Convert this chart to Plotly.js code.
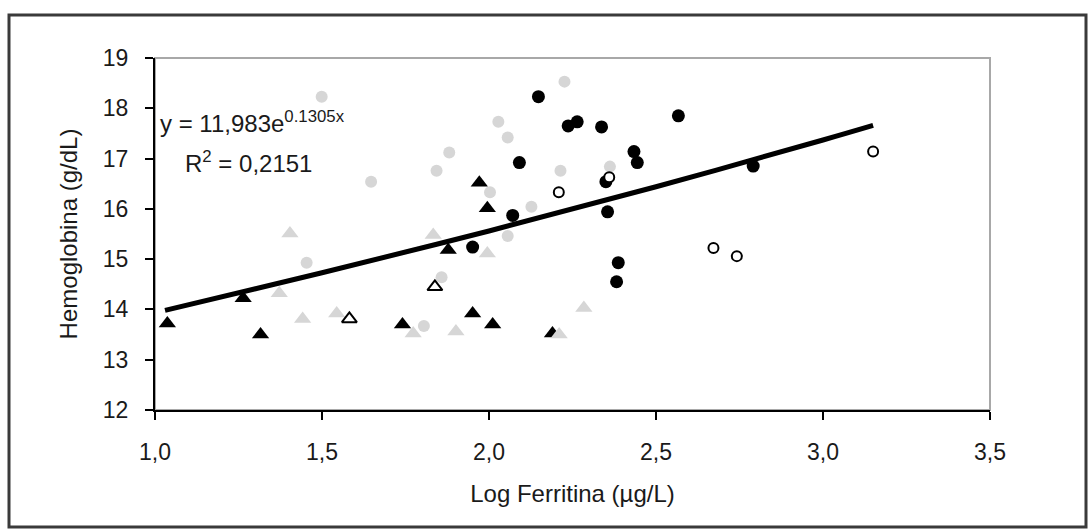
<!DOCTYPE html>
<html>
<head>
<meta charset="utf-8">
<script src="https://cdn.plot.ly/plotly-3.0.1.min.js"></script>
<style>
  html, body { margin: 0; padding: 0; background: #ffffff; }
  #chart { width: 1088px; height: 529px; }
</style>
</head>
<body>
<div id="chart"></div>
<script>
// Black filled circles
const blackCircleX = [1.951, 2.148, 2.237, 2.264, 2.337, 2.091, 2.350, 2.071, 2.355, 2.387, 2.382, 2.434, 2.444, 2.567, 2.791];
const blackCircleY = [15.24, 18.23, 17.65, 17.73, 17.63, 16.92, 16.54, 15.87, 15.94, 14.93, 14.55, 17.14, 16.92, 17.85, 16.85];

// Open circles
const openCircleX = [2.209, 2.360, 2.672, 2.742, 3.150];
const openCircleY = [16.33, 16.63, 15.22, 15.06, 17.14];

// Black filled triangles
const blackTriX = [1.037, 1.264, 1.316, 1.741, 1.878, 1.951, 1.971, 1.995, 2.011, 2.190];
const blackTriY = [13.72, 14.22, 13.50, 13.70, 15.18, 13.92, 16.52, 16.01, 13.70, 13.52];

// Open triangles
const openTriX = [1.582, 1.838];
const openTriY = [13.81, 14.45];

// Light gray circles
const grayCircleX = [1.499, 1.647, 1.454, 1.858, 1.805, 2.056, 2.226, 2.028, 2.056, 1.881, 1.843, 2.214, 2.362, 2.003, 2.127];
const grayCircleY = [18.23, 16.54, 14.93, 14.64, 13.67, 15.46, 18.53, 17.73, 17.42, 17.12, 16.76, 16.76, 16.84, 16.33, 16.04];

// Light gray triangles
const grayTriX = [1.404, 1.372, 1.442, 1.544, 1.833, 1.773, 1.901, 1.995, 2.210, 2.284];
const grayTriY = [15.51, 14.32, 13.81, 13.92, 15.48, 13.52, 13.56, 15.11, 13.50, 14.03];

// Trendline
const trendX = [1.03, 1.5, 2.0, 2.5, 3.0, 3.15];
const trendY = [13.98, 14.73, 15.56, 16.44, 17.37, 17.66];

// Tick values
const xTicks = [1.0, 1.5, 2.0, 2.5, 3.0, 3.5];
const yTicks = [12, 13, 14, 15, 16, 17, 18, 19];

const eqLine1 = "y = 11,983e<sup>0.1305x</sup>";
const eqLine2 = "R<sup>2</sup> = 0,2151";

const FONT = "Liberation Sans, Arial, sans-serif";
const BLACK = "#000000";
const GRAY = "#d6d6d6";

const traces = [
  { x: blackTriX, y: blackTriY, type: "scatter", mode: "markers", name: "black triangles",
    marker: { symbol: "triangle-up", size: 15, color: BLACK } },
  { x: grayTriX, y: grayTriY, type: "scatter", mode: "markers", name: "gray triangles",
    marker: { symbol: "triangle-up", size: 15, color: GRAY } },
  { x: grayCircleX, y: grayCircleY, type: "scatter", mode: "markers", name: "gray circles",
    marker: { symbol: "circle", size: 12, color: GRAY } },
  { x: openTriX, y: openTriY, type: "scatter", mode: "markers", name: "open triangles",
    marker: { symbol: "triangle-up", size: 13, color: "#ffffff", line: { color: BLACK, width: 2 } } },
  { x: blackCircleX, y: blackCircleY, type: "scatter", mode: "markers", name: "black circles",
    marker: { symbol: "circle", size: 13, color: BLACK } },
  { x: openCircleX, y: openCircleY, type: "scatter", mode: "markers", name: "open circles",
    marker: { symbol: "circle", size: 10, color: "#ffffff", line: { color: BLACK, width: 2 } } },
  { x: trendX, y: trendY, type: "scatter", mode: "lines", name: "trend",
    line: { color: BLACK, width: 5, shape: "spline" } }
];

const L = 155, R = 98, T = 58, B = 119;
const W = 1088, H = 529;
const pw = W - L - R, ph = H - T - B;
const px = v => (v - L) / pw;
const py = v => (H - B - v) / ph;

const layout = {
  width: W, height: H,
  margin: { l: L, r: R, t: T, b: B, pad: 0 },
  paper_bgcolor: "#ffffff",
  plot_bgcolor: "#ffffff",
  showlegend: false,
  separators: ",.",
  font: { family: FONT, color: "#1a1a1a", size: 23 },
  xaxis: {
    range: [1, 3.5], tickvals: xTicks, tickformat: ".1f",
    showgrid: false, zeroline: false,
    showline: true, linecolor: BLACK, linewidth: 2,
    ticks: "outside", ticklen: 8, tickwidth: 2, tickcolor: BLACK,
    ticklabelstandoff: 12,
    tickfont: { family: FONT, size: 23, color: "#1a1a1a" },
    title: { text: "Log Ferritina (µg/L)", font: { family: FONT, size: 24, color: "#1a1a1a" }, standoff: 22 },
    fixedrange: true
  },
  yaxis: {
    range: [12, 19], tickvals: yTicks,
    showgrid: false, zeroline: false,
    showline: true, linecolor: BLACK, linewidth: 2,
    ticks: "outside", ticklen: 8, tickwidth: 2, tickcolor: BLACK,
    ticklabelstandoff: 12,
    tickfont: { family: FONT, size: 23, color: "#1a1a1a" },
    title: { text: "Hemoglobina (g/dL)", font: { family: FONT, size: 24, color: "#1a1a1a" }, standoff: 18 },
    fixedrange: true
  },
  shapes: [
    // plot area border (top/right in gray)
    { type: "rect", xref: "paper", yref: "paper", x0: 0, x1: 1, y0: 0, y1: 1,
      line: { color: "#a8a8a8", width: 2 }, layer: "below" },
    // outer chart frame
    { type: "rect", xref: "paper", yref: "paper",
      x0: px(9), x1: px(1086), y0: py(527), y1: py(15),
      line: { color: "#3a3a3a", width: 3 } }
  ],
  annotations: [
    { text: eqLine1, xref: "paper", yref: "paper", x: px(252), y: py(122),
      xanchor: "center", yanchor: "middle", showarrow: false,
      font: { family: FONT, size: 24, color: "#1a1a1a" } },
    { text: eqLine2, xref: "paper", yref: "paper", x: px(248), y: py(162),
      xanchor: "center", yanchor: "middle", showarrow: false,
      font: { family: FONT, size: 24, color: "#1a1a1a" } }
  ]
};

Plotly.newPlot("chart", traces, layout, { displayModeBar: false, staticPlot: true });
</script>
</body>
</html>
